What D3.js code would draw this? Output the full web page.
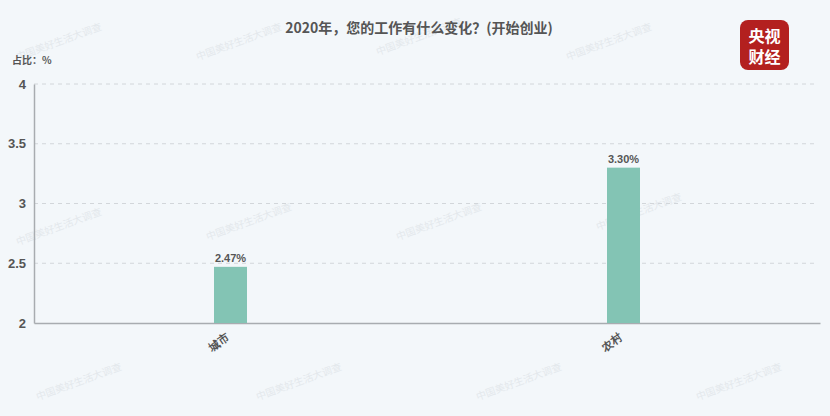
<!DOCTYPE html>
<html><head><meta charset="utf-8">
<script src="https://cdn.jsdelivr.net/npm/d3@7"></script>
<style>body{margin:0;background:#f3f7fa;}svg{display:block;font-family:"Noto Sans CJK SC","Noto Sans",sans-serif;}</style>
</head><body><svg id="c" width="830" height="416"></svg>
<script>
const categories = ["城市", "农村"];
const values = [2.47, 3.30];
const yTicks = [2, 2.5, 3, 3.5, 4];
const title = "2020年，您的工作有什么变化？(开始创业)";
const unitLabel = "占比：%";

const svg = d3.select("#c");
const W = 830, H = 416;
svg.append("rect").attr("width", W).attr("height", H).attr("fill", "#f3f7fa");
const m = {l: 34, r: 10, t: 84, b: 93};
const x = d3.scaleBand().domain(categories).range([m.l, W - m.r]);
const y = d3.scaleLinear().domain([2, 4]).range([H - m.b, m.t]);

// watermarks
const wm = [[60,45],[240,45],[420,40],[610,45],[60,230],[250,225],[440,225],[640,215],[80,385],[300,385],[520,385],[740,385]];
svg.append("g").selectAll("text").data(wm).join("text")
  .attr("transform", d => `translate(${d[0]},${d[1]}) rotate(-20)`)
  .attr("text-anchor", "middle").attr("font-size", 10).attr("fill", "#e3e8ec")
  .text("中国美好生活大调查");

// grid
svg.append("g").selectAll("line").data(yTicks.filter(t => t > 2)).join("line")
  .attr("x1", m.l).attr("x2", W - m.r - 2).attr("y1", d => y(d)).attr("y2", d => y(d))
  .attr("stroke", "#d2d6da").attr("stroke-dasharray", "4,4");

// y axis
const ya = svg.append("g").attr("transform", `translate(${m.l},0)`)
  .call(d3.axisLeft(y).tickValues(yTicks).tickSize(0).tickPadding(8).tickFormat(d3.format("")));
ya.select(".domain").attr("stroke", "#a8acb0").attr("stroke-width", 1.5);
ya.selectAll("text").attr("font-size", 13).attr("font-weight", "bold").attr("fill", "#555")
  .attr("font-family", "'Liberation Sans',Arial,sans-serif");

// x axis
const xa = svg.append("g").attr("transform", `translate(0,${H - m.b})`)
  .call(d3.axisBottom(x).tickSize(0).tickPadding(0));
xa.select(".domain").attr("stroke", "#a8acb0").attr("stroke-width", 1.5);
xa.selectAll("text").attr("font-size", 11).attr("font-weight", "bold").attr("fill", "#555")
  .attr("text-anchor", "end").attr("dy", 0)
  .attr("transform", "translate(0,16) rotate(-35)");

// bars
const bw = 33;
svg.append("g").selectAll("rect").data(values).join("rect")
  .attr("x", (d, i) => x(categories[i]) + x.bandwidth() / 2 - bw / 2)
  .attr("width", bw)
  .attr("y", d => y(d)).attr("height", d => y(2) - y(d))
  .attr("fill", "#83c4b4");

svg.append("g").selectAll("text").data(values).join("text")
  .attr("x", (d, i) => x(categories[i]) + x.bandwidth() / 2)
  .attr("y", d => y(d) - 5)
  .attr("text-anchor", "middle").attr("font-size", 11).attr("font-weight", "bold").attr("fill", "#555")
  .attr("font-family", "'Liberation Sans',Arial,sans-serif")
  .text(d => d.toFixed(2) + "%");

// title
svg.append("text").attr("x", 419).attr("y", 33).attr("text-anchor", "middle")
  .attr("font-size", 14).attr("font-weight", "bold").attr("fill", "#555").text(title);
svg.append("text").attr("x", 12).attr("y", 64).attr("font-size", 10).attr("font-weight", "bold")
  .attr("fill", "#555").text(unitLabel);

// logo
const lg = svg.append("g").attr("transform", "translate(740,20)");
lg.append("rect").attr("width", 49).attr("height", 50).attr("rx", 8).attr("fill", "#b3201f");
lg.append("text").attr("transform", "translate(24.5,21.5) scale(1.15,1.1)").attr("text-anchor", "middle")
  .attr("font-size", 14).attr("font-weight", "bold").attr("fill", "#fff").text("央视");
lg.append("text").attr("transform", "translate(24.5,43) scale(1.15,1.1)").attr("text-anchor", "middle")
  .attr("font-size", 14).attr("font-weight", "bold").attr("fill", "#fff").text("财经");
</script></body></html>
